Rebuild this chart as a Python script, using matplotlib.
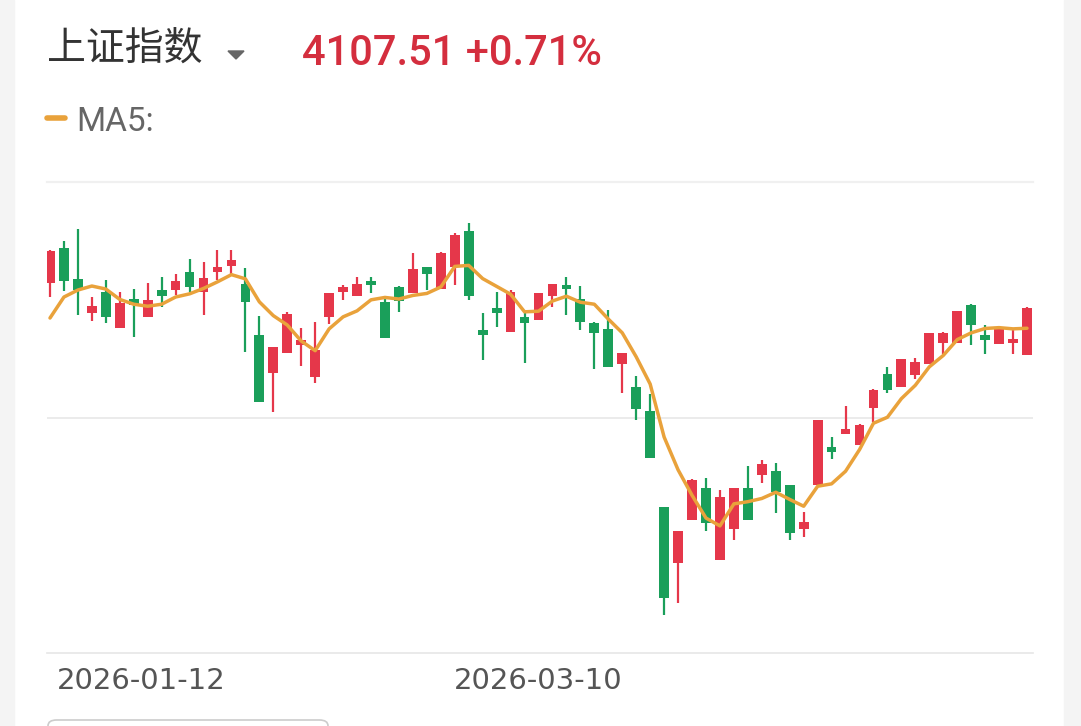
import numpy as np
import matplotlib
matplotlib.use("Agg")
import matplotlib.pyplot as plt
from matplotlib.patches import Polygon, Rectangle, FancyBboxPatch
from matplotlib.lines import Line2D

# 上证指数 日K 数据
opens = [4130.8, 4163.3, 4134.5, 4102.9, 4122.4, 4088.9, 4115.9, 4099.1, 4124.2, 4124.2,
         4141.0, 4122.4, 4141.0, 4146.6, 4129.8, 4082.4, 4047.1, 4065.7, 4073.1, 4043.3,
         4099.1, 4122.4, 4118.7, 4132.6, 4113.1, 4127.0, 4121.5, 4145.6, 4125.2, 4145.6,
         4179.1, 4087.0, 4107.5, 4085.2, 4099.1, 4096.3, 4118.7, 4128.9, 4115.9, 4093.5,
         4088.0, 4055.4, 4034.0, 4011.7, 3922.4, 3870.4, 3910.3, 3940.1, 3873.1, 3902.0,
         3940.1, 3952.2, 3955.9, 3942.9, 3902.0, 3942.9, 3978.2, 3990.3, 3980.1, 4014.5,
         4046.1, 4034.0, 4045.2, 4055.4, 4075.0, 4075.0, 4110.3, 4082.4, 4074.0, 4075.0,
         4063.8]
highs = [4161.4, 4169.8, 4181.0, 4117.7, 4133.5, 4122.4, 4125.2, 4130.8, 4136.3, 4139.1,
         4153.1, 4150.3, 4161.4, 4161.4, 4144.7, 4100.1, 4071.2, 4103.8, 4088.9, 4094.5,
         4121.5, 4128.9, 4136.3, 4136.3, 4118.7, 4128.0, 4158.7, 4145.6, 4159.6, 4177.3,
         4186.6, 4102.9, 4122.4, 4124.2, 4102.9, 4121.5, 4129.8, 4136.3, 4128.0, 4094.5,
         4105.6, 4065.7, 4044.3, 4027.5, 3922.4, 3900.1, 3948.5, 3949.4, 3938.2, 3940.1,
         3960.6, 3966.1, 3963.4, 3942.9, 3917.8, 4003.3, 3987.5, 4016.4, 3999.6, 4032.2,
         4052.6, 4060.1, 4061.0, 4084.2, 4085.2, 4104.7, 4111.2, 4091.7, 4089.8, 4087.0,
         4108.4]
lows = [4117.7, 4123.3, 4101.0, 4095.4, 4093.5, 4088.9, 4080.5, 4099.1, 4108.4, 4119.6,
        4122.4, 4101.0, 4133.5, 4138.2, 4066.6, 4020.1, 4010.8, 4065.7, 4053.6, 4037.8,
        4092.6, 4114.9, 4118.7, 4121.5, 4079.6, 4103.8, 4121.5, 4124.2, 4125.2, 4128.9,
        4114.9, 4059.1, 4089.8, 4085.2, 4056.3, 4096.3, 4108.4, 4101.0, 4087.0, 4050.8,
        4052.6, 4028.5, 4003.3, 3968.0, 3822.0, 3833.2, 3910.3, 3900.1, 3873.1, 3891.7,
        3910.3, 3944.8, 3916.9, 3891.7, 3894.5, 3942.9, 3967.1, 3990.3, 3980.1, 4001.5,
        4028.5, 4034.0, 4041.5, 4055.4, 4064.7, 4075.0, 4073.1, 4064.7, 4074.0, 4064.7,
        4063.8]
closes = [4160.5, 4132.6, 4124.2, 4109.4, 4099.1, 4112.2, 4110.3, 4114.9, 4118.7, 4132.6,
          4127.0, 4135.4, 4145.6, 4152.1, 4113.1, 4020.1, 4071.2, 4101.9, 4077.7, 4068.4,
          4121.5, 4127.0, 4129.8, 4128.9, 4079.6, 4114.0, 4143.8, 4139.1, 4158.7, 4175.4,
          4118.7, 4082.4, 4102.9, 4122.4, 4093.5, 4121.5, 4129.8, 4125.2, 4094.5, 4084.2,
          4052.6, 4065.7, 4013.6, 3968.0, 3837.8, 3900.1, 3947.5, 3907.5, 3931.7, 3940.1,
          3910.3, 3962.4, 3936.4, 3898.3, 3908.5, 4003.3, 3973.6, 3995.0, 3998.7, 4031.2,
          4031.2, 4060.1, 4057.3, 4084.2, 4084.2, 4104.7, 4091.7, 4077.7, 4088.0, 4078.55,
          4107.51]
# 图中第一根K线之前的4个收盘价（用于 MA5 起点）
prev_closes = [4035.0, 4091.7, 4090.8, 4113.1]

date_ticks = [0, 35]
date_labels = ["2026-01-12", "2026-03-10"]

index_name = "上证指数"
last_price = 4107.51
pct_change = 0.71

RED = "#e5374a"
GREEN = "#1a9f5a"
MA_COLOR = "#e9a23b"

W, H = 1081, 726
fig = plt.figure(figsize=(W / 100, H / 100), dpi=100)
fig.patch.set_facecolor("white")

# 两侧浅灰边
fig.patches.append(Rectangle((0, 0), 14 / W, 1, transform=fig.transFigure, color="#f4f4f4", zorder=0))
fig.patches.append(Rectangle((1064 / W, 0), 17 / W, 1, transform=fig.transFigure, color="#f4f4f4", zorder=0))

ax = fig.add_axes([47 / W, 73 / H, 986 / W, 471 / H])
ax.set_facecolor("none")

n = len(closes)
x = np.arange(n)
o = np.array(opens)
c = np.array(closes)
hi = np.array(highs)
lo = np.array(lows)
up = c >= o
colors = np.where(up, RED, GREEN)

# 影线
ax.vlines(x, lo, hi, colors=colors, linewidth=1.6, zorder=2)
# 实体
body_bottom = np.minimum(o, c)
body_h = np.maximum(np.abs(c - o), 1.2)
ax.bar(x, body_h, bottom=body_bottom, width=0.7, color=colors, linewidth=0, zorder=3)

# MA5
all_c = np.concatenate([prev_closes, closes])
ma5 = np.convolve(all_c, np.ones(5) / 5, mode="valid")
ax.plot(x, ma5, color=MA_COLOR, linewidth=2.5, solid_joinstyle="round",
        solid_capstyle="round", zorder=4)

# 网格线
y_lo, y_hi = 3786.7, 4224.7
ax.set_ylim(y_lo, y_hi)
ax.set_xlim(-0.215, 70.43)
ax.axhline(y_hi, color="#f0f0f0", linewidth=1.6, clip_on=False, zorder=1)
ax.axhline((y_lo + y_hi) / 2, color="#e8e8e8", linewidth=1.2, zorder=1)
ax.axhline(y_lo, color="#e6e6e6", linewidth=1.2, clip_on=False, zorder=1)
for s in ax.spines.values():
    s.set_visible(False)
ax.set_xticks([])
ax.set_yticks([])

# 日期标签
trans = ax.get_xaxis_transform()
ax.text(date_ticks[0] + 0.5, -0.06, date_labels[0], transform=trans, ha="left", va="center",
        fontsize=21, color="#555555", family="DejaVu Sans")
ax.text(date_ticks[1], -0.06, date_labels[1], transform=trans, ha="center", va="center",
        fontsize=21, color="#555555", family="DejaVu Sans")

# 标题
fig.text(47 / W, 1 - 50 / H, index_name, fontsize=28, color="#333333",
         family=["Noto Sans CJK SC", "DejaVu Sans"], ha="left", va="center")
fig.patches.append(Polygon([[228 / W, 1 - 51 / H], [244 / W, 1 - 51 / H], [236 / W, 1 - 59 / H]],
                           closed=True, transform=fig.transFigure, color="#666666"))
fig.text(302 / W, 1 - 65 / H, f"{last_price:.2f} +{pct_change:.2f}%", fontsize=30, color="#d42e3e",
         family="Roboto", fontweight="medium", ha="left", va="baseline")

# MA5 图例
fig.lines.append(Line2D([47 / W, 65 / W], [1 - 118 / H, 1 - 118 / H], transform=fig.transFigure,
                        color=MA_COLOR, linewidth=4, solid_capstyle="round"))
fig.text(76 / W, 1 - 131 / H, "MA5:", fontsize=24, color="#666666", family="Roboto",
         ha="left", va="baseline")

# 底部按钮边框（部分）
fig.patches.append(FancyBboxPatch((48 / W, -0.05), 280 / W, 0.05 + (726 - 720) / H,
                                  boxstyle="round,pad=0,rounding_size=0.008", transform=fig.transFigure,
                                  facecolor="white", edgecolor="#cccccc", linewidth=1.2))

fig.savefig("out.png", dpi=100)
